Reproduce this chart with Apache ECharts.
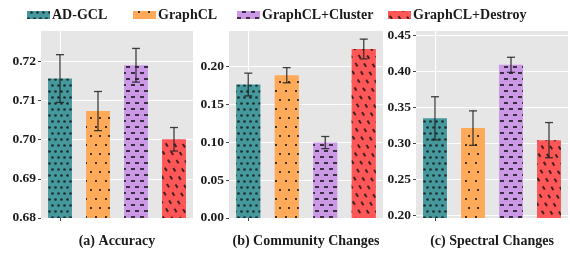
<!DOCTYPE html>
<html>
<head>
<meta charset="utf-8">
<script src="https://cdn.jsdelivr.net/npm/echarts@6/dist/echarts.min.js"></script>
<style>
  html, body { margin: 0; padding: 0; background: #fff; }
  #chart { width: 570px; height: 253px; }
</style>
</head>
<body>
<div id="chart"></div>
<script>
// 数据
var methods = ['AD-GCL', 'GraphCL', 'GraphCL+Cluster', 'GraphCL+Destroy'];
var panelTitles = ['(a) Accuracy', '(b) Community Changes', '(c) Spectral Changes'];

var accuracy = [0.7156, 0.7073, 0.7190, 0.7001];
var accuracyErr = [0.0061, 0.0050, 0.0043, 0.0030];

var community = [0.1757, 0.1880, 0.0993, 0.2225];
var communityErr = [0.0150, 0.0100, 0.0080, 0.0130];

var spectral = [0.3350, 0.3213, 0.4095, 0.3045];
var spectralErr = [0.0300, 0.0240, 0.0105, 0.0245];

var yMin = [0.68, 0, 0.196];
var yMax = [0.728, 0.2475, 0.458];

var colors = ['#45999d', '#ffaa58', '#cc99e6', '#ff5757'];
var decalColor = 'rgba(20,20,20,0.8)';
var decals = [
    { symbol: 'circle', symbolSize: 0.9, color: decalColor,
      dashArrayX: [[3, 3], [0, 3, 3, 0]], dashArrayY: [3, 3] },
    { symbol: 'rect', symbolSize: 1, color: decalColor,
      dashArrayX: [[2, 7], [0, 4.5, 2, 2.5]], dashArrayY: [2, 7] },
    { symbol: 'rect', symbolSize: 1, color: decalColor,
      dashArrayX: [[4, 5], [0, 5, 4, 0]], dashArrayY: [1.5, 3.5] },
    { symbol: 'rect', symbolSize: 1, color: decalColor,
      dashArrayX: [[4, 6], [0, 5, 4, 1]], dashArrayY: [2, 5], rotation: 1.0 }
];

var values = [accuracy, community, spectral];
var errors = [accuracyErr, communityErr, spectralErr];

var myChart = echarts.init(document.getElementById('chart'));

var font = 'Liberation Serif';
var gridPos = [
    { left: 41, width: 152 },
    { left: 229, width: 154 },
    { left: 416, width: 152 }
];
var legendLeft = [27, 133, 237, 388];

var grids = [], xAxes = [], yAxes = [], series = [], legends = [];

gridPos.forEach(function (g, gi) {
    grids.push({
        left: g.left, width: g.width, top: 30, height: 197,
        show: true, backgroundColor: '#e6e6e6', borderWidth: 0
    });
    xAxes.push({
        type: 'category', gridIndex: gi, data: methods,
        name: panelTitles[gi], nameLocation: 'middle', nameGap: 16,
        nameTextStyle: { fontFamily: font, fontWeight: 'bold', fontSize: 14, color: '#1a1a1a' },
        axisLine: { show: false },
        axisTick: { show: true, alignWithLabel: true, length: 3, lineStyle: { color: '#444' } },
        axisLabel: { show: false },
        splitLine: { show: true, alignWithLabel: true, lineStyle: { color: '#fff', width: 1 } }
    });
    yAxes.push({
        type: 'value', gridIndex: gi, min: yMin[gi], max: yMax[gi], splitNumber: 5,
        axisLine: { show: false },
        axisTick: { show: true, length: 3, lineStyle: { color: '#444' } },
        axisLabel: {
            showMinLabel: gi !== 2, showMaxLabel: false, margin: 5,
            fontFamily: font, fontWeight: 'bold', fontSize: 13.5, color: '#1a1a1a',
            formatter: function (v) { return v.toFixed(2); }
        },
        splitLine: { show: true, lineStyle: { color: '#fff', width: 1 } }
    });

    methods.forEach(function (m, mi) {
        var d = methods.map(function (_, k) { return k === mi ? values[gi][k] : '-'; });
        series.push({
            name: m, type: 'bar', xAxisIndex: gi, yAxisIndex: gi,
            stack: 'p' + gi, barWidth: '63%', data: d,
            itemStyle: { color: colors[mi], decal: decals[mi] }
        });
    });

    series.push({
        type: 'custom', xAxisIndex: gi, yAxisIndex: gi, z: 5,
        data: values[gi].map(function (v, k) {
            return [k, v - errors[gi][k], v + errors[gi][k]];
        }),
        renderItem: function (params, api) {
            var lo = api.coord([api.value(0), api.value(1)]);
            var hi = api.coord([api.value(0), api.value(2)]);
            var hw = 4;
            var st = { stroke: '#222', lineWidth: 1.3, opacity: 0.85 };
            return {
                type: 'group',
                children: [
                    { type: 'line', shape: { x1: lo[0], y1: lo[1], x2: hi[0], y2: hi[1] }, style: st },
                    { type: 'line', shape: { x1: lo[0] - hw, y1: lo[1], x2: lo[0] + hw, y2: lo[1] }, style: st },
                    { type: 'line', shape: { x1: hi[0] - hw, y1: hi[1], x2: hi[0] + hw, y2: hi[1] }, style: st }
                ]
            };
        }
    });
});

methods.forEach(function (m, mi) {
    legends.push({
        data: [m], left: legendLeft[mi], top: 8,
        itemWidth: 23, itemHeight: 8, itemGap: 0, padding: 0,
        icon: 'rect',
        textStyle: { fontFamily: font, fontWeight: 'bold', fontSize: 14, color: '#1a1a1a', padding: [0, 0, 0, -3] }
    });
});

const option = {
    backgroundColor: '#fff',
    animation: false,
    legend: legends,
    grid: grids,
    xAxis: xAxes,
    yAxis: yAxes,
    series: series
};

myChart.setOption(option);
</script>
</body>
</html>
